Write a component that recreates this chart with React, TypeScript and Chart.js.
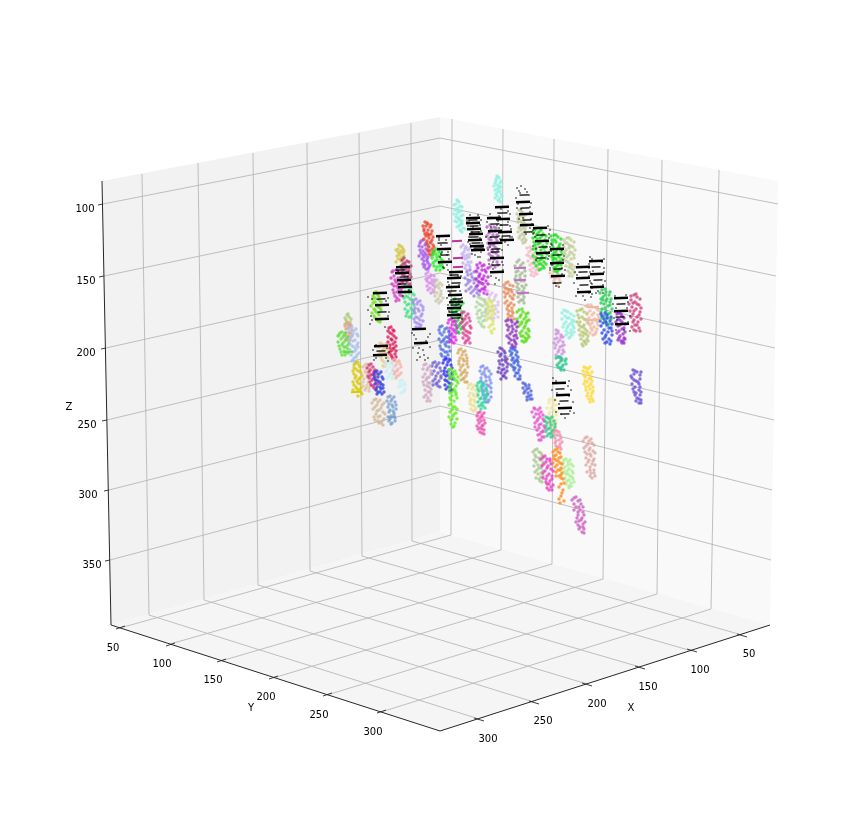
import React, { useEffect, useRef } from "react";
import { Chart, registerables } from "chart.js";
Chart.register(...registerables);

const xTickLabels = ["50", "100", "150", "200", "250", "300"];
const yTickLabels = ["50", "100", "150", "200", "250", "300"];
const zTickLabels = ["100", "150", "200", "250", "300", "350"];

const leftPane = [[102, 181], [440, 117], [440, 532], [111, 625]];
const rightPane = [[440, 117], [778, 181], [770, 625], [440, 532]];
const floorPane = [[111, 625], [440, 532], [770, 625], [440, 731]];
const axisPath = [[102, 181], [111, 625], [440, 731], [770, 625]];
const zGrid = [
  [103, 204, 440, 138, 778, 204], [104, 276, 440, 206, 776, 276], [106, 348, 440, 273, 775, 348],
  [107, 420, 440, 340, 774, 420], [109, 490, 440, 406, 772, 490], [110, 560, 440, 472, 771, 560],
];
const xGrid = [
  [742, 635, 412, 541, 411, 123], [692, 651, 362, 556, 359, 133], [640, 667, 310, 571, 307, 143],
  [587, 684, 258, 585, 253, 153], [534, 702, 204, 600, 198, 163], [479, 719, 149, 615, 142, 174],
];
const yGrid = [
  [120, 628, 451, 535, 452, 119], [170, 644, 501, 550, 503, 129], [221, 661, 552, 564, 554, 139],
  [273, 678, 603, 579, 608, 149], [327, 695, 657, 594, 662, 160], [381, 712, 711, 609, 719, 170],
];
const ticks = [
  [98, 205, 103, 204], [99, 277, 104, 276], [101, 349, 106, 348], [102, 421, 107, 420], [104, 491, 109, 490], [105, 561, 110, 560],
  [116, 629, 125, 626], [166, 646, 175, 643], [217, 662, 226, 659], [269, 679, 278, 676], [323, 696, 332, 693], [377, 713, 386, 710],
  [737, 634, 747, 637], [687, 649, 697, 652], [635, 666, 645, 669], [582, 683, 592, 686], [529, 701, 539, 704], [474, 718, 484, 721],
];
const xLabelAt = [[749, 654], [700, 670], [648, 687], [597, 704], [543, 721], [488, 739]];
const yLabelAt = [[113, 648], [162, 664], [213, 680], [266, 697], [319, 715], [373, 732]];
const zLabelAt = [[85, 209], [86, 281], [86, 353], [87, 425], [88, 495], [92, 565]];
const axisTitles = [["X", 631, 708], ["Y", 251, 708], ["Z", 69, 407]];

const clusterColors = [
  "#8ff0e0", "#8ff0e0", "#c2c89a", "#d4c84a", "#a855e8", "#d68af0", "#e8492f", "#b53a7a", "#d63ac8",
  "#c8c8a8", "#c0b0f0", "#9a80e0", "#c81fe0", "#b060c0", "#f5b8c8", "#18e018", "#f0c0b0", "#18e018",
  "#c2cc98", "#b5c870", "#8ff0e0", "#f0b8a0", "#20cc50", "#2b4cf0", "#9b2fd0", "#d04080", "#dcc0ea",
  "#b0d8a0", "#d8e860", "#e88a5a", "#a0b890", "#55dd11", "#8a2fc0", "#3f5fe0", "#6a3fc0", "#4f5fe0",
  "#d090e0", "#25c98a", "#ffd92f", "#6a4fd8", "#eee8a0", "#e84fd0", "#2fc88a", "#f090b0", "#a8c890",
  "#a8f090", "#ff8c1a", "#e840c0", "#dca8a0", "#cc60c0", "#b0c878", "#e0a090", "#60e040", "#a8c0f0",
  "#d8c800", "#e0c0a0", "#d83080", "#3040e0", "#70e020", "#e8c880", "#e01858", "#f5b0a8", "#c8f0f8",
  "#d0b898", "#7ca0d0", "#40e080", "#a88cf0", "#22ee22", "#22cc40", "#e04090", "#ee22ee", "#5070e0",
  "#2a2af0", "#7060d0", "#d0a8c0", "#5ef020", "#d4aa60", "#e8e090", "#7a90f0", "#30d898", "#f050b0",
];
const clusterPoints = [
  [457,200,459,202,456,204,460,206,458,208,455,210,459,212,457,214,461,216,458,218,460,220,457,222,462,224,459,226,463,228,460,230,462,232,458,211,461,223],
  [497,176,499,178,496,181,500,183,497,185,499,188,495,190,498,192,501,194,497,196,500,198,498,200,501,202,496,179,499,186],
  [519,210,522,212,520,215,523,217,518,219,521,221,524,223,520,226,523,228,521,230,525,232,522,234,520,236,524,238,522,240,525,242],
  [399,245,402,247,398,249,401,251,403,253,399,255,402,257,398,259,401,261,404,263,398,252,403,249],
  [423,240,420,243,425,245,422,247,426,249,423,251,421,253,426,255,424,257,427,259,424,261,428,263,425,265,429,267,426,269,423,255],
  [428,272,431,275,428,278,432,280,429,283,433,285,430,288,433,290,431,293,427,281,434,282],
  [425,222,428,224,426,226,430,227,424,229,428,230,427,233,431,234,426,236,429,238,432,240,427,241,430,243,433,245,429,247,432,249,430,251,433,253,431,255,428,235],
  [404,258,407,261,403,264,406,266,409,268,404,270,407,272,410,274,405,276,408,278,404,280,407,282,410,284,402,268],
  [396,270,399,273,394,276,398,278,401,280,396,282,399,284,394,286,398,288,401,290,397,292,400,295,397,298,399,300,392,272],
  [437,280,440,283,436,286,439,288,441,291,437,293,440,296,438,299,441,301,439,303],
  [463,245,466,247,468,250,464,252,467,255,469,257,465,259,468,262,466,265,470,267,467,270,464,256],
  [470,270,474,272,468,275,472,277,476,279,470,281,474,283,478,285,471,287,475,289,473,291,477,293,474,296,468,283,479,277],
  [480,263,484,265,478,268,482,270,486,272,480,274,484,276,482,279,486,281,479,282,483,284,485,287,482,289,486,291,484,293],
  [490,225,494,227,491,229,495,231,489,233,493,235,496,238,491,240,494,243,490,245,495,247,492,250,496,253,491,256,494,259,497,262,492,265,495,267],
  [530,247,534,249,529,252,533,254,536,256,531,258,535,261,532,263,537,265,533,268,536,270,532,272,537,274,534,276],
  [535,230,539,232,543,234,536,236,540,238,545,240,534,242,538,244,543,246,536,248,541,250,545,252,538,254,542,256,536,258,540,260,544,262,539,264,543,266,541,269,537,239,546,247],
  [552,275,556,277,559,279,554,281,557,284,553,271],
  [554,235,558,237,552,240,556,242,560,244,553,247,557,249,561,251,554,253,558,255,552,257,556,259,560,261,554,263,558,265,556,267,560,269,557,272,554,258],
  [567,238,571,240,565,243,569,245,573,247,566,250,570,252,574,255,567,257,571,259,568,262,572,265,569,267,573,270,570,273,572,276,565,254],
  [580,310,584,312,578,315,582,317,586,320,580,322,584,325,581,327,585,329,582,332,586,334,583,336,587,339,584,341,586,344,583,346],
  [564,310,568,312,571,314,565,316,569,318,572,320,566,322,570,324,573,326,567,328,571,330,568,333,572,335,569,338,574,332],
  [588,305,592,307,596,308,590,311,594,313,598,315,589,318,593,320,597,322,590,325,594,327,592,330,596,332,593,335],
  [602,290,606,292,609,295,603,297,607,299,610,302,604,304,608,306,602,309,606,311,610,313,604,316,608,318,605,321,609,324,603,300],
  [605,313,602,316,607,318,610,321,603,323,607,325,611,328,604,330,608,332,612,335,605,337,609,339,607,342,610,344],
  [619,313,622,316,618,319,622,322,620,325,624,328,619,331,623,334,620,336,624,338,621,341,625,339,622,343],
  [634,295,637,297,631,300,635,302,639,305,632,307,636,309,640,312,633,314,637,317,634,320,638,322,635,325,639,328,636,331],
  [488,291,492,293,496,295,489,298,494,300,498,302,487,304,492,306,496,309,490,311,495,314,498,317,492,319,486,312],
  [478,297,482,299,485,302,479,304,483,306,486,309,478,311,482,313,485,316,480,318,483,321,481,324,484,327],
  [489,300,492,302,488,305,491,307,494,310,489,312,492,315,490,318,493,321,491,325,494,329,492,333],
  [506,283,510,285,505,288,509,290,512,292,506,294,510,296,513,299,507,301,511,303,508,306,512,308,509,311,513,313,510,316,514,319],
  [517,262,521,265,524,268,518,271,522,273,516,276,520,278,524,281,518,284,522,286,519,289,523,291,520,294,524,297,521,300,524,303],
  [519,310,523,312,526,314,520,317,524,319,527,321,521,324,525,326,528,329,522,331,526,333,523,336,527,339,524,342,529,337,518,322],
  [508,320,512,322,515,324,509,327,513,329,516,331,510,334,514,336,517,338,511,340,515,342,512,345,515,347],
  [511,348,515,350,512,353,516,355,513,358,517,360,514,363,518,365,515,368,519,370,516,373,520,376,518,379],
  [500,348,504,351,501,354,505,357,502,360,506,362,503,365,507,367,502,370,505,373,503,376,506,378,498,372],
  [523,383,526,386,529,388,525,391,528,393,531,395,527,397,530,399],
  [556,330,558,333,561,335,557,338,560,340,563,342,556,345,560,347,563,350,558,352,562,354,559,357,561,360],
  [558,357,562,359,565,361,559,363,563,365,560,368,564,370],
  [584,367,588,369,586,372,590,375,585,377,589,379,587,382,591,384,586,387,590,389,593,391,588,393,591,396,589,399,593,401],
  [633,370,637,372,640,375,632,378,636,381,639,384,635,387,639,390,636,393,640,395,637,398,641,400,639,403],
  [549,400,553,402,556,405,551,408,555,411,549,414,553,417,556,420,551,423,555,426,552,429,556,432],
  [534,408,538,410,541,412,536,414,540,417,543,419,537,421,541,424,544,426,539,428,543,431,540,434,544,437,541,440],
  [546,417,550,419,554,421,547,423,551,425,555,427,548,429,552,431,549,434,553,436],
  [555,430,559,432,557,435,561,438,556,441,560,444,558,447,561,449],
  [535,450,539,452,542,455,536,457,540,460,543,462,538,465,541,468,537,470,541,473,543,476,539,479,542,482],
  [564,460,568,462,571,464,565,467,569,469,572,471,566,474,570,476,573,479,567,481,571,483,569,486],
  [555,450,558,452,556,455,559,458,556,460,560,463,557,465,561,468,558,470,562,473,559,476,563,479,561,484,563,490,561,496,564,501],
  [543,457,547,459,550,461,544,464,548,466,551,469,545,471,549,474,552,476,546,479,550,481,547,484,551,487,549,490],
  [585,438,589,441,592,443,586,446,590,448,593,451,587,454,591,456,594,459,588,462,592,464,590,467,594,470,591,473,595,476],
  [574,498,578,501,581,504,576,507,580,510,583,512,578,515,582,518,579,521,583,524,580,527,584,529,582,532],
  [347,315,349,317,346,320,350,322,348,325],
  [347,323,351,325,348,328,352,330,349,333,346,336,350,338,348,340],
  [340,333,344,335,348,337,341,339,345,341,349,343,342,345,346,347,340,349,344,351,348,353,345,355],
  [350,328,354,331,357,334,351,337,355,340,358,343,352,346,356,349,353,352,357,355,354,358,352,361,355,363],
  [356,363,359,365,354,368,358,371,361,373,356,376,360,378,357,381,360,384,356,387,359,390,361,392,358,396],
  [365,365,369,367,372,370,366,373,370,376,364,379,368,382,371,385,366,388,369,391],
  [369,365,373,367,370,370,374,372,371,375,375,377,372,380,376,383,373,386,376,389],
  [375,372,379,374,382,377,376,380,380,382,383,385,377,387,381,389,378,392,382,394],
  [374,293,378,295,375,298,379,300,373,303,377,305,380,308,375,310,378,313,374,316,377,319,380,322],
  [380,343,384,346,387,349,381,352,385,355,388,358,382,360,386,363,383,366],
  [389,328,393,330,390,333,394,336,391,339,395,342,390,345,394,348,391,351,395,354,392,357,394,360],
  [393,360,397,362,400,364,394,367,398,369,395,372,399,375,396,378],
  [386,362,390,364,393,367,387,370,391,373,389,376,392,379,400,381,404,383,402,386,405,389,403,392],
  [374,400,378,402,382,405,375,407,379,410,383,412,376,414,380,416,384,419,378,421,381,423],
  [388,397,392,399,395,402,389,404,393,407,390,410,394,413,391,416,395,418,389,421,392,423],
  [405,287,409,290,412,293,406,296,410,299,413,302,407,305,411,308,408,311,412,314,409,317],
  [414,300,418,302,421,305,415,308,419,311,422,314,416,317,420,320,417,323,421,325,418,328],
  [435,250,439,252,433,255,437,257,441,259,435,261,439,263,442,265,437,267,440,270],
  [453,300,457,303,461,305,454,308,458,310,462,312,455,315,459,317,463,319,456,322,460,324,457,327,461,329,458,332],
  [462,313,466,316,469,318,463,321,467,323,470,326,464,329,468,332,465,335,469,338,466,341,470,343],
  [449,320,453,322,456,325,450,328,454,331,452,334,455,337,451,340,454,343],
  [440,327,445,329,449,332,442,335,446,337,450,340,441,342,445,344,449,347,443,350,447,352,441,354,445,357,449,359],
  [444,360,448,362,451,365,445,368,449,370,452,373,446,376,450,378,447,381,451,384,448,387,452,390],
  [433,363,437,365,440,368,434,371,438,373,441,376,435,379,439,381,436,384,440,387],
  [424,365,428,368,431,371,425,374,429,377,426,380,430,383,427,386,431,389,428,392,431,395,428,398,430,401],
  [449,370,453,372,456,374,451,377,455,380,458,383,450,386,454,389,452,392,456,395,450,398,454,401,451,404,455,407,452,410,456,413,453,416,451,420,455,423,453,427],
  [459,350,463,352,466,355,460,358,464,361,467,364,461,367,465,370,462,373,466,376,463,379,467,382],
  [469,385,473,387,476,390,470,393,474,396,471,399,475,402,472,405,476,408,473,411],
  [481,367,485,369,489,371,482,374,486,377,490,380,483,383,487,385,491,388,484,391,488,394,485,397,489,400,486,402],
  [478,383,482,385,486,388,479,391,483,393,487,396,480,399,484,402,481,405,485,408],
  [478,413,482,415,480,418,484,420,479,423,483,425,480,428,484,430,482,433],
];
// the denser scatter that lies between and around the marks above
const clusterInfill = [
  [458,201,454,205,462,207,456,209,461,211,454,214,463,215,456,217,459,219,462,221,455,221,460,225,457,227,465,229,461,231],
  [498,177,495,183,501,181,494,186,501,187,497,189,500,191,496,194,502,196,495,198,499,201],
  [521,211,517,214,525,215,519,217,524,220,518,222,522,224,526,226,519,228,525,229,518,232,524,235,519,238,526,240,523,243],
  [400,246,396,250,404,251,400,253,397,256,404,256,400,259,396,262,403,260],
  [421,241,426,243,419,246,428,246,420,250,428,251,425,253,419,256,428,257,422,259,427,261,423,264,430,265,424,267,428,269],
  [426,274,434,276,430,277,426,279,435,280,431,283,427,286,435,287,428,290,434,292],
  [427,223,423,226,431,225,424,231,432,231,425,234,429,235,433,237,424,239,431,242,427,244,434,247,428,250,434,251,429,254],
  [402,260,409,262,405,263,401,266,411,266,406,269,402,272,409,271,403,275,411,277,406,280,402,282,408,285,405,286],
  [393,271,398,271,402,274,391,278,395,280,403,282,392,284,397,286,402,287,393,290,399,291,394,293,402,296,395,296,396,301],
  [435,282,442,285,438,285,434,290,441,294,435,296,443,298,436,301],
  [461,247,465,249,470,248,462,254,470,254,462,258,467,258,471,262,463,263,469,265,465,268],
  [467,272,477,272,471,274,465,278,474,279,468,280,478,281,466,285,476,287,469,289,478,290,471,293,466,291,479,295],
  [477,265,482,266,488,268,476,271,485,270,479,276,488,277,483,279,476,279,481,283,488,284,477,286,484,289,480,291,487,294],
  [487,227,496,228,492,231,487,236,497,235,489,239,497,241,488,243,493,245,497,249,488,248,493,252,489,254,498,256,493,257,489,260,498,265,490,267],
  [527,248,536,248,531,250,527,255,537,253,529,256,534,259,528,261,539,262,530,265,538,268,530,270,535,273,531,275],
  [533,232,541,230,537,234,546,236,533,238,542,236,547,243,535,245,540,243,533,249,544,248,536,252,547,254,533,256,540,254,546,258,537,261,542,259,534,263,546,264,536,266,541,264,539,270,544,268],
  [550,273,558,274,551,277,560,281,555,279,558,286],
  [551,236,556,235,561,239,555,240,552,243,559,246,551,250,559,248,556,252,562,254,552,255,559,257,553,260,562,259,552,264,557,262,561,265,554,268,558,270,555,271],
  [564,240,569,238,574,242,567,243,571,246,564,247,569,248,575,250,564,252,572,253,569,255,564,259,574,258,566,261,570,264,575,267,566,266,571,268,568,271,574,273,569,276],
  [577,311,582,309,587,314,579,318,584,319,577,322,588,323,579,325,583,327,587,331,579,330,584,333,580,335,588,336,581,339,585,342,582,344,588,341],
  [566,311,562,313,574,316,567,318,562,319,574,321,564,324,572,323,568,326,563,327,574,328,566,331,571,333,566,335,570,337],
  [586,306,591,305,598,310,587,313,592,315,599,318,587,320,595,319,592,323,588,323,598,325,591,328,597,329,590,333,595,334],
  [605,289,600,293,610,292,605,295,601,299,611,299,606,301,601,303,610,305,605,308,612,309,601,312,608,314,602,318,611,319,606,323],
  [601,314,607,315,611,317,604,319,600,321,606,322,612,324,601,326,609,328,602,333,612,331,606,335,603,339,611,341,605,343],
  [617,314,621,314,624,318,620,320,616,322,625,324,618,326,622,329,617,333,625,332,619,338,623,341,624,343,618,340],
  [631,296,636,294,640,299,633,303,637,304,629,304,641,308,634,311,630,311,639,315,631,317,641,319,633,322,637,325,632,327,640,331,634,330],
  [486,292,490,295,495,297,485,300,491,302,498,305,488,307,495,306,486,310,492,310,498,312,488,314,494,318,488,318],
  [480,298,477,302,484,300,481,305,476,307,486,304,480,310,485,312,477,314,482,316,478,318,485,320,479,322,482,326],
  [491,301,487,303,493,306,488,309,493,312,487,314,491,317,487,320,493,324,489,327,491,331],
  [508,282,504,285,513,286,507,289,511,290,504,292,508,293,514,295,505,297,512,298,505,303,509,305,514,305,507,309,512,311,508,314,512,316,508,318],
  [519,260,523,263,515,266,520,267,525,271,516,272,520,275,525,276,515,279,521,281,516,282,526,285,517,287,524,288,517,292,523,294,518,297,523,300,519,302],
  [522,309,517,312,528,313,521,315,526,317,517,319,529,320,522,322,526,323,519,326,524,328,529,331,520,333,528,335,521,336,525,338,522,341,526,341],
  [506,321,511,320,517,322,507,325,512,326,517,327,508,330,512,332,507,336,516,335,509,338,514,340,509,343,516,344,513,347],
  [513,349,510,351,517,352,511,355,518,357,512,360,515,361,511,365,518,362,513,367,520,367,514,370,518,373,515,376,520,379],
  [502,349,498,352,505,353,500,356,507,359,499,361,505,360,500,364,508,364,504,369,499,368,507,371,501,373,504,376,501,379],
  [525,384,529,385,523,388,527,389,531,391,524,393,529,396,532,399,527,400],
  [558,331,556,334,563,337,555,339,561,337,564,345,558,342,554,343,562,346,555,348,559,350,564,352,556,355,561,358],
  [556,358,560,357,566,359,561,361,557,365,566,364,558,367,562,367,561,370],
  [586,368,590,367,583,371,588,373,592,372,584,375,591,378,585,381,592,381,584,384,589,386,593,387,586,390,592,393,587,396,592,399,590,402],
  [635,371,641,372,634,374,631,376,640,379,634,380,632,384,638,382,633,389,640,387,634,392,641,392,635,395,639,399,636,401,641,403],
  [551,399,555,400,549,403,553,405,547,408,553,409,557,412,550,412,556,415,549,417,552,420,548,421,556,423,549,425,553,427,549,429,554,431],
  [535,409,540,408,532,412,539,414,543,415,534,417,538,419,544,421,535,423,539,425,535,427,545,428,537,430,542,432,538,435,542,437,539,440],
  [548,418,552,417,545,421,550,422,555,424,546,426,550,428,554,430,546,431,551,433,547,436,551,437],
  [557,431,554,433,560,435,555,438,559,440,555,443,562,442,556,446,560,447],
  [537,449,533,452,541,453,535,455,543,458,534,460,539,458,536,462,542,465,534,466,539,468,535,472,543,471,538,474,541,477,536,478,540,481],
  [566,459,570,460,563,463,568,465,573,466,563,469,567,471,573,473,564,472,568,474,572,477,565,478,569,480,574,482,566,484,571,486,569,488],
  [557,449,553,452,560,453,554,456,561,457,554,459,558,461,553,463,562,464,555,467,560,470,556,472,561,475,556,476,561,478,564,483,559,487,562,493,559,499,560,503],
  [545,456,541,459,550,459,546,462,551,464,542,466,547,468,553,471,543,473,547,476,543,478,552,479,546,482,549,484,553,485,547,488,552,490],
  [587,437,583,441,591,439,588,444,594,445,584,448,589,450,595,453,585,452,590,454,586,458,593,461,589,460,586,465,595,465,590,470,587,472,594,473,590,476,592,478],
  [576,497,572,500,580,500,574,504,579,507,583,507,574,510,578,512,584,515,577,518,581,520,576,522,585,522,578,525,583,527,579,529,584,533],
  [348,314,345,318,351,319,347,322,345,324,350,325],
  [349,324,345,326,350,327,346,329,351,333,345,333,349,336,352,336,346,339,350,340],
  [342,332,346,333,338,336,343,337,347,339,338,342,343,343,348,345,339,346,344,347,348,349,341,352,346,352,342,355,339,335],
  [352,327,356,329,349,331,353,334,358,336,349,339,353,341,357,345,350,344,354,347,358,347,350,350,355,351,359,353,351,355,356,357,353,360,356,362],
  [358,362,354,365,360,367,356,369,353,371,360,371,354,374,362,376,355,378,359,379,353,382,358,383,354,385,361,388,357,389,353,390,362,394],
  [367,364,363,367,371,368,365,371,368,372,362,375,367,377,372,379,363,382,367,385,363,386,369,388,365,390],
  [371,364,367,368,375,370,369,372,373,374,368,376,377,374,369,378,375,380,370,382,378,384,371,385,374,388],
  [377,371,381,372,374,375,378,377,383,379,374,378,378,381,381,384,375,384,380,387,383,388,376,390,380,392,377,394,384,392],
  [376,292,373,296,379,297,373,299,381,302,375,302,371,306,378,307,374,309,381,310,376,312,372,313,379,315,375,318,381,319,378,321],
  [382,344,386,344,379,347,385,348,389,351,383,350,379,354,384,353,387,356,381,357,388,361,384,362,385,366],
  [391,327,388,331,394,331,392,334,388,337,396,338,392,340,388,342,393,344,396,346,390,348,393,349,389,353,396,351,391,355,396,357,393,359],
  [395,359,399,361,392,363,396,365,401,367,393,370,397,371,401,373,394,374,397,376],
  [388,361,392,362,385,365,389,367,394,369,386,372,390,374,387,378,393,377,402,380,400,384,405,385,399,387,404,391,401,393],
  [376,399,380,400,372,403,377,405,384,403,373,409,381,408,377,411,385,414,374,417,378,417,382,421,375,420,379,423,383,425],
  [390,396,394,397,387,401,391,401,396,405,388,407,392,405,389,412,396,409,393,411,388,417,394,415,390,419,395,421,391,424],
  [407,286,411,288,405,292,409,293,414,295,404,298,408,297,412,300,405,302,414,305,409,304,405,309,412,310,407,313,414,312,406,316,411,317],
  [416,299,420,301,413,303,417,304,423,307,414,310,418,309,423,310,415,313,421,316,414,319,418,318,423,321,415,322,419,324,416,327,420,327],
  [437,249,433,252,441,253,436,254,432,258,439,256,443,261,433,263,437,260,441,262,434,266,440,266,436,270,443,268],
  [455,299,459,301,452,304,456,305,463,303,452,310,456,311,460,309,453,313,461,315,457,315,452,318,458,320,454,321,462,322,455,325,459,326,463,327,456,330,459,333],
  [464,312,468,314,461,317,465,319,470,321,461,323,465,325,471,328,463,327,466,331,470,333,463,333,467,336,463,338,468,340,465,343],
  [451,319,455,321,448,323,452,325,457,328,449,331,453,329,456,333,450,335,453,337,449,338,456,340,452,342,449,342],
  [442,326,447,328,439,330,444,332,450,335,440,333,444,339,448,337,439,339,447,342,443,341,440,346,446,346,450,351,441,349,445,352,448,355,442,356,446,358],
  [446,359,450,360,443,363,447,365,452,368,444,371,447,372,452,375,444,374,448,375,453,379,445,380,449,383,445,385,450,387,446,389,450,391],
  [435,362,439,363,432,366,436,367,441,371,432,374,436,376,441,378,433,381,437,383,433,385,438,386],
  [426,364,430,366,423,369,427,370,431,374,423,377,427,378,423,382,428,383,424,385,429,387,425,390,430,392,426,395,424,397,427,401],
  [451,369,455,371,449,374,453,375,458,377,449,379,454,378,457,381,452,384,456,386,449,389,455,391,450,393,456,393,452,396,457,398,451,400,449,405,453,407,457,409,450,412,454,414,449,417,452,419,457,419,451,424,454,426],
  [461,349,465,351,458,353,462,355,467,358,459,361,463,359,467,361,459,364,463,365,468,367,460,370,464,372,461,375,467,373,464,378,461,380,465,382],
  [471,384,475,385,468,388,472,389,477,393,469,396,473,394,477,397,470,401,474,400,470,404,474,406,471,409,475,410],
  [483,366,487,368,480,371,484,372,491,374,481,378,485,375,489,377,481,381,486,381,491,383,483,386,489,386,482,389,486,389,491,392,483,395,487,394,491,397,484,399,488,402],
  [480,382,484,384,477,386,481,387,487,391,478,389,482,391,478,395,485,395,481,398,486,399,478,402,482,403,479,406,483,406,481,409],
  [480,412,484,413,477,416,482,417,478,420,485,423,481,421,477,426,482,426,478,429,482,429,480,432,484,434],
];

const stripeColors = ["#c0359a", "#c070c8", "#7ca0d0", "#f0b8a0", "#d8c800", "#60e040"];
const stripeRadii = [5, 6, 4, 6, 5, 5];
const stripePoints = [
  [457,241,458,258,458,267],
  [520,268,520,280,523,293],
  [392,417],
  [593,307,593,320],
  [356,392],
  [348,352],
];
const blackStripes = [
  403,267,402,273,404,280,405,287,405,292,443,236,444,249,445,262,456,272,454,278,453,287,455,295,456,302,454,308,454,315,
  473,218,473,223,474,229,476,234,475,240,477,246,478,250,494,218,495,231,495,243,497,258,497,272,502,207,503,219,505,232,507,240,
  523,202,526,214,527,225,540,228,542,241,543,253,557,249,557,263,558,276,583,267,583,278,584,292,596,261,597,274,597,287,
  621,298,621,311,622,324,559,383,563,395,565,408,382,305,382,319,380,293,381,346,380,355,419,329,421,343,
];
const blackShortStripes = [
  400,270,404,277,402,284,442,243,445,255,454,275,456,283,452,291,457,299,455,305,453,312,456,318,
  473,220,474,226,475,232,474,237,476,243,478,248,495,224,494,237,496,249,495,252,496,265,503,213,504,225,506,236,
  524,195,525,208,527,220,528,232,541,235,543,247,541,258,557,255,558,269,557,283,583,272,584,285,596,267,598,280,621,304,620,317,
  560,389,564,401,565,414,381,299,382,312,381,351,
];
const blackDots = [
  398,271,408,276,400,284,409,290,403,296,439,240,447,243,441,245,447,255,440,257,449,259,443,267,448,270,461,276,448,282,460,291,447,298,
  461,306,449,311,462,319,467,221,481,220,468,226,479,232,469,237,482,243,470,244,483,248,475,255,480,257,487,222,501,225,486,237,502,238,
  488,250,502,250,489,264,503,265,491,276,499,280,495,284,498,213,508,211,497,225,510,226,512,237,502,243,508,245,517,188,525,189,520,193,
  529,195,516,198,530,207,517,208,531,219,519,219,533,230,526,234,534,233,548,226,533,234,549,234,533,246,550,247,536,260,548,259,551,244,
  550,268,563,245,549,256,564,256,550,270,565,270,555,283,559,287,575,272,590,272,574,283,591,283,576,296,591,297,585,300,590,257,604,259,
  589,268,604,268,590,281,605,281,592,294,603,293,613,304,628,302,614,318,630,316,616,330,630,331,553,378,569,381,552,390,571,390,555,400,
  573,402,556,412,574,413,565,418,368,297,388,298,368,310,389,312,370,324,385,327,373,350,389,352,374,360,388,361,412,333,430,334,413,348,
  430,347,418,353,424,355,417,360,428,358,
  439,238,446,240,442,252,448,252,441,254,447,265,444,268,451,275,458,276,449,285,459,285,450,293,462,298,451,300,459,304,448,305,458,314,
  470,215,478,215,469,221,480,225,473,227,481,231,472,232,468,242,480,238,474,246,481,252,472,254,478,257,490,214,499,216,491,227,499,228,
  491,237,500,239,490,247,498,250,493,262,502,262,493,269,503,270,496,278,501,209,510,214,498,221,508,222,511,229,499,236,510,237,505,242,
  521,186,519,191,527,192,518,204,531,203,521,209,530,212,523,218,532,224,530,228,536,228,550,230,535,237,549,238,536,249,549,252,551,263,
  552,245,562,250,551,251,563,260,552,265,562,268,554,276,562,274,556,286,578,264,589,264,577,275,589,276,578,289,592,288,583,296,589,293,
  592,259,602,262,593,271,604,272,592,284,603,285,598,291,596,293,615,296,626,295,616,308,627,308,617,320,628,322,624,330,556,381,568,386,
  557,393,569,396,559,404,571,408,570,411,561,414,372,299,386,301,371,316,388,316,372,320,376,345,387,348,376,358,386,358,414,335,428,337,
  416,339,426,341,419,348,423,350,420,357,425,360,
];

const W = 858, H = 836;

function flat(list: number[]) {
  const out: { x: number; y: number }[] = [];
  for (let i = 0; i < list.length; i += 2) out.push({ x: list[i], y: list[i + 1] });
  return out;
}
const lineSet = (list: number[], color: string, width: number) => ({
  type: "line", data: flat(list), borderColor: color, borderWidth: width, pointRadius: 0, showLine: true, fill: false, tension: 0,
});

const boxPlugin = {
  id: "box3d",
  beforeDatasetsDraw(chart: any) {
    const { ctx, scales } = chart;
    const px = (v: number) => scales.x.getPixelForValue(v);
    const py = (v: number) => scales.y.getPixelForValue(v);
    const panes: [number[][], string][] = [[leftPane, "#f2f2f2"], [rightPane, "#f9f9f9"], [floorPane, "#f5f5f5"]];
    ctx.save();
    for (const [poly, color] of panes) {
      ctx.beginPath();
      poly.forEach((p, i) => (i ? ctx.lineTo(px(p[0]), py(p[1])) : ctx.moveTo(px(p[0]), py(p[1]))));
      ctx.closePath();
      ctx.fillStyle = color;
      ctx.fill();
    }
    ctx.restore();
  },
  afterDatasetsDraw(chart: any) {
    const { ctx, scales } = chart;
    const px = (v: number) => scales.x.getPixelForValue(v);
    const py = (v: number) => scales.y.getPixelForValue(v);
    ctx.save();
    ctx.font = '10px "DejaVu Sans"';
    ctx.fillStyle = "#000";
    ctx.textAlign = "center";
    ctx.textBaseline = "middle";
    const put = (labels: string[], at: number[][]) =>
      labels.forEach((t, i) => ctx.fillText(t, px(at[i][0]), py(at[i][1])));
    put(xTickLabels, xLabelAt);
    put(yTickLabels, yLabelAt);
    put(zTickLabels, zLabelAt);
    axisTitles.forEach(([t, x, y]) => ctx.fillText(t as string, px(x as number), py(y as number)));
    ctx.restore();
  },
};

export default function App() {
  const ref = useRef<HTMLCanvasElement>(null);
  useEffect(() => {
    const sets: any[] = [];
    [...zGrid, ...xGrid, ...yGrid].forEach((g) => sets.push(lineSet(g, "#b8b8b8", 0.9)));
    clusterPoints.forEach((pts, i) =>
      sets.push({
        type: "scatter", label: "cluster " + (i + 1), data: flat([...pts, ...(clusterInfill[i] || [])]), showLine: false,
        pointRadius: 1.7, pointBorderWidth: 0, pointBackgroundColor: clusterColors[i] + "cc",
      })
    );
    stripePoints.forEach((pts, i) =>
      sets.push({
        type: "scatter", data: flat(pts), showLine: false, pointStyle: "line", pointRadius: stripeRadii[i],
        pointBorderWidth: 2, pointBorderColor: stripeColors[i], pointRotation: -2,
      })
    );
    sets.push({
      type: "scatter", data: flat(blackDots), showLine: false, pointRadius: 0.8, pointBorderWidth: 0, pointBackgroundColor: "#000",
    });
    sets.push({
      type: "scatter", data: flat(blackShortStripes), showLine: false, pointStyle: "line", pointRadius: 4.5,
      pointBorderWidth: 1.4, pointBorderColor: "#000", pointRotation: -2,
    });
    sets.push({
      type: "scatter", data: flat(blackStripes), showLine: false, pointStyle: "line", pointRadius: 7,
      pointBorderWidth: 2.4, pointBorderColor: "#000", pointRotation: -2,
    });
    sets.push(lineSet(axisPath.flat(), "#262626", 1));
    ticks.forEach((t) => sets.push(lineSet(t, "#262626", 0.9)));
    sets.forEach((s, i) => (s.order = sets.length - i));

    const chart = new Chart(ref.current as HTMLCanvasElement, {
      type: "scatter",
      data: { datasets: sets },
      options: {
        responsive: false,
        animation: false,
        layout: { padding: 0, autoPadding: false },
        plugins: { legend: { display: false }, tooltip: { enabled: false } },
        scales: {
          x: { type: "linear", min: 0, max: W, display: false },
          y: { type: "linear", min: 0, max: H, reverse: true, display: false },
        },
      },
      plugins: [boxPlugin],
    } as any);
    return () => chart.destroy();
  }, []);
  return (
    <div style={{ position: "absolute", left: 0, top: 0, width: W, height: H, background: "#fff" }}>
      <canvas ref={ref} width={W} height={H} style={{ display: "block" }} />
    </div>
  );
}
